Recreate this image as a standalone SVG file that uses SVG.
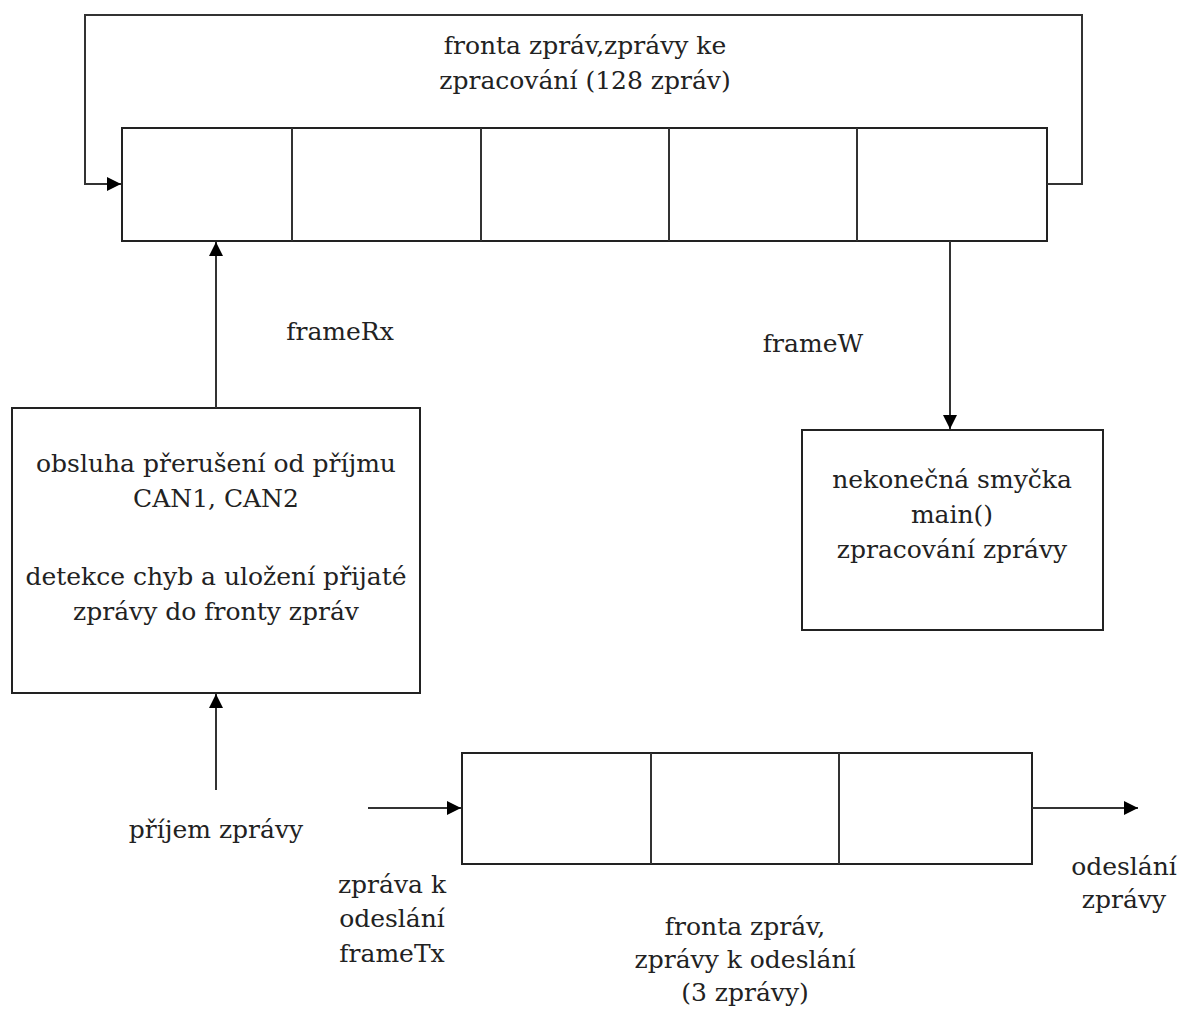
<svg xmlns="http://www.w3.org/2000/svg" width="1190" height="1012" viewBox="0 0 1190 1012">
<defs>
<marker id="ah" viewBox="0 0 10 10" refX="10" refY="5" markerWidth="14" markerHeight="14" markerUnits="userSpaceOnUse" orient="auto">
<path d="M0,0 L10,5 L0,10 z" fill="#000"/>
</marker>
</defs>
<style>
.b{fill:#fff;stroke:#222;stroke-width:2}
.l{fill:none;stroke:#333;stroke-width:2}
.c{fill:none;stroke:#333;stroke-width:2;marker-end:url(#ah)}
text{font-family:'DejaVu Serif',serif;font-size:25px;fill:#222;text-anchor:middle}
</style>
<rect width="1190" height="1012" fill="#fff"/>
<g id="queue1">
<rect class="b" x="122" y="128" width="925" height="113"/>
<line class="l" x1="292" y1="128" x2="292" y2="241"/>
<line class="l" x1="481" y1="128" x2="481" y2="241"/>
<line class="l" x1="669" y1="128" x2="669" y2="241"/>
<line class="l" x1="857" y1="128" x2="857" y2="241"/>
<text x="585" y="54">fronta zpráv,zprávy ke</text>
<text x="585" y="89">zpracování (128 zpráv)</text>
</g>
<g id="isr">
<rect class="b" x="12" y="408" width="408" height="285"/>
<text x="216" y="472">obsluha přerušení od příjmu</text>
<text x="216" y="507">CAN1, CAN2</text>
<text x="216" y="585">detekce chyb a uložení přijaté</text>
<text x="216" y="620">zprávy do fronty zpráv</text>
</g>
<g id="main">
<rect class="b" x="802" y="430" width="301" height="200"/>
<text x="952" y="488">nekonečná smyčka</text>
<text x="952" y="523">main()</text>
<text x="952" y="558">zpracování zprávy</text>
</g>
<g id="queue2">
<rect class="b" x="462" y="753" width="570" height="111"/>
<line class="l" x1="651" y1="753" x2="651" y2="864"/>
<line class="l" x1="839" y1="753" x2="839" y2="864"/>
<text x="745" y="935">fronta zpráv,</text>
<text x="745" y="968">zprávy k odeslání</text>
<text x="745" y="1001">(3 zprávy)</text>
</g>
<g id="connectors">
<path class="c" d="M1047,184 H1082 V15 H85 V184 H121"/>
<path class="c" d="M216,408 V242"/>
<path class="c" d="M950,241 V429"/>
<path class="c" d="M216,790 V694"/>
<path class="c" d="M368,808 H461"/>
<path class="c" d="M1032,808 H1138"/>
</g>
<g id="labels">
<text x="340" y="340">frameRx</text>
<text x="813" y="352">frameW</text>
<text x="216" y="838">příjem zprávy</text>
<text x="392" y="893">zpráva k</text>
<text x="392" y="927">odeslání</text>
<text x="392" y="962">frameTx</text>
<text x="1124" y="875">odeslání</text>
<text x="1124" y="908">zprávy</text>
</g>
</svg>
